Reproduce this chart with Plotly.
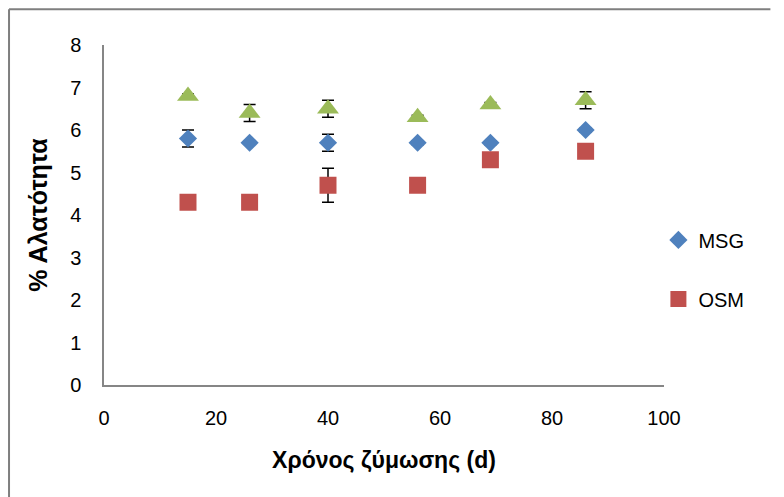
import plotly.graph_objects as go

days = [15, 26, 40, 56, 69, 86]
msg = [5.8, 5.7, 5.7, 5.7, 5.7, 6.0]
msg_err = [0.2, 0.02, 0.2, 0.05, 0.05, 0.05]
osm = [4.3, 4.3, 4.7, 4.7, 5.3, 5.5]
osm_err = [0.02, 0.02, 0.4, 0.02, 0.05, 0.02]
third = [6.8, 6.4, 6.5, 6.3, 6.6, 6.7]
third_err = [0.05, 0.2, 0.2, 0.05, 0.05, 0.2]

font_family = "Liberation Sans Narrow, Arial Narrow, sans-serif"

def eb(vals):
    return dict(type="data", array=vals, visible=True, color="black", thickness=1.5, width=6)

fig = go.Figure()
fig.add_trace(go.Scatter(x=days, y=msg, mode="markers", name="MSG",
                         marker=dict(symbol="diamond", size=14, color="#4F81BD"),
                         error_y=eb(msg_err), legendgroup="a"))
fig.add_trace(go.Scatter(x=days, y=osm, mode="markers", name="OSM",
                         marker=dict(symbol="square", size=17, color="#C0504D"),
                         error_y=eb(osm_err), legendgroup="b"))
fig.add_trace(go.Scatter(x=days, y=third, mode="markers", name="",
                         marker=dict(symbol="triangle-up", size=19, color="#9BBB59"),
                         error_y=eb(third_err), showlegend=False))

border = dict(color="#7f7f7f", width=2)
fig.update_layout(
    width=784, height=497,
    margin=dict(l=104, r=120, t=45, b=112),
    paper_bgcolor="white", plot_bgcolor="white",
    font=dict(family=font_family, size=20, color="black"),
    xaxis=dict(range=[0, 100], dtick=20, showgrid=False, zeroline=False,
               showline=True, linecolor="#868686", linewidth=1.5, ticks="outside",
               ticklen=14, tickcolor="rgba(0,0,0,0)",
               title=dict(text="<b>Χρόνος ζύμωσης (d)</b>", font=dict(size=23), standoff=24)),
    yaxis=dict(range=[0, 8], dtick=1, showgrid=False, zeroline=False,
               showline=True, linecolor="#868686", linewidth=1.5, ticks="outside",
               ticklen=17, tickcolor="rgba(0,0,0,0)",
               title=dict(text="<b>% Αλατότητα</b>", font=dict(size=25), standoff=15)),
    legend=dict(x=0.99, y=0.34, xanchor="left", yanchor="middle",
                traceorder="grouped", tracegroupgap=30, font=dict(size=20),
                itemwidth=30, bgcolor="rgba(0,0,0,0)"),
    shapes=[
        dict(type="line", xref="paper", yref="paper", x0=-0.1696, y0=1.105, x1=1.19, y1=1.105,
             line=border, layer="above"),
        dict(type="line", xref="paper", yref="paper", x0=-0.1696, y0=1.105, x1=-0.1696, y1=-0.33,
             line=border, layer="above"),
    ],
)

fig.write_html("out.html", config={"displayModeBar": False},
               post_script="document.body.style.margin='0';")
